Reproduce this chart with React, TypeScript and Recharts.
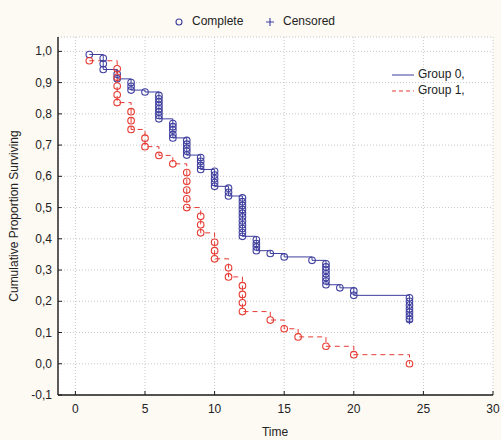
import { CartesianGrid, ComposedChart, Line, Scatter, XAxis, YAxis } from "recharts";

// event times and survival levels (one circle per event)
const group0Times = [1, 2, 3, 4, 5, 6, 7, 8, 9, 10, 11, 12, 13, 14, 15, 17, 18, 19, 20, 24];
const group0Levels = [
  [0.99],
  [0.978, 0.96, 0.942],
  [0.927, 0.912],
  [0.9, 0.888, 0.876],
  [0.87],
  [0.859, 0.848, 0.838, 0.827, 0.816, 0.806, 0.795, 0.784],
  [0.769, 0.759, 0.748, 0.734, 0.723],
  [0.715, 0.703, 0.69, 0.68, 0.668],
  [0.66, 0.648, 0.635, 0.622],
  [0.616, 0.604, 0.592, 0.58, 0.568],
  [0.562, 0.549, 0.537],
  [0.531, 0.519, 0.507, 0.494, 0.482, 0.47, 0.457, 0.445, 0.433, 0.42, 0.408],
  [0.397, 0.385, 0.374, 0.362],
  [0.353],
  [0.342],
  [0.331],
  [0.32, 0.31, 0.299, 0.288, 0.276, 0.265, 0.253],
  [0.243],
  [0.233, 0.219],
  [0.211, 0.2, 0.188, 0.176, 0.165, 0.153, 0.142],
];
const group0Censored = [{ x: 24, y: 0.136 }];

const group1Times = [1, 3, 4, 5, 6, 7, 8, 9, 10, 11, 12, 14, 15, 16, 18, 20, 24];
const group1Levels = [
  [0.97],
  [0.944, 0.917, 0.889, 0.861, 0.836],
  [0.807, 0.778, 0.75],
  [0.722, 0.695],
  [0.667],
  [0.64],
  [0.612, 0.584, 0.556, 0.528, 0.5],
  [0.472, 0.445, 0.419],
  [0.389, 0.362, 0.336],
  [0.307, 0.278],
  [0.25, 0.222, 0.195, 0.167],
  [0.14],
  [0.112],
  [0.086],
  [0.056],
  [0.029],
  [0.0],
];

const xTicks = [0, 5, 10, 15, 20, 25, 30];
const yTicks = [-0.1, 0, 0.1, 0.2, 0.3, 0.4, 0.5, 0.6, 0.7, 0.8, 0.9, 1.0];

const FONT = '"Liberation Sans", Arial, sans-serif';
const BLUE = "#3f3f9f";
const RED = "#e63a32";
const AXIS = "#1c1c1c";

// horizontal run at the previous level, then down through each event
const stepPoints = (times: number[], levels: number[][]) => {
  const pts: { x: number; y: number }[] = [];
  times.forEach((t, i) => {
    if (i > 0) {
      const prev = levels[i - 1];
      pts.push({ x: t, y: prev[prev.length - 1] });
    }
    levels[i].forEach((v) => pts.push({ x: t, y: v }));
  });
  return pts;
};

const eventPoints = (times: number[], levels: number[][]) =>
  times.flatMap((t, i) => levels[i].map((v) => ({ x: t, y: v })));

const fmtY = (v: number) => v.toFixed(1).replace(".", ",");

const ring = (color: string) => (p: any) =>
  <circle cx={p.cx} cy={p.cy} r={3.3} fill="none" stroke={color} strokeWidth={1.1} />;

const plus = (p: any) => (
  <path d={`M${p.cx - 3},${p.cy}H${p.cx + 3}M${p.cx},${p.cy - 3}V${p.cy + 3}`} stroke={BLUE} strokeWidth={1.1} />
);

const LeftTick = (p: any) => (
  <g>
    <line x1={p.x} x2={p.x + 4} y1={p.y} y2={p.y} stroke={AXIS} />
    <text x={p.x - 6} y={p.y} textAnchor="end" dominantBaseline="central" fontSize={12} fill="#222" fontFamily={FONT}>
      {fmtY(p.payload.value)}
    </text>
  </g>
);

const BottomTick = (p: any) => (
  <g>
    <line x1={p.x} x2={p.x} y1={p.y} y2={p.y - 4} stroke={AXIS} />
    <text x={p.x} y={p.y + 18} textAnchor="middle" fontSize={12} fill="#222" fontFamily={FONT}>
      {p.payload.value}
    </text>
  </g>
);

const TopTick = (p: any) => <line x1={p.x} x2={p.x} y1={p.y} y2={p.y + 4} stroke={AXIS} />;
const RightTick = (p: any) => <line x1={p.x - 4} x2={p.x} y1={p.y} y2={p.y} stroke={AXIS} />;

export default function App() {
  const line0 = stepPoints(group0Times, group0Levels);
  const line1 = stepPoints(group1Times, group1Levels);
  const dots0 = eventPoints(group0Times, group0Levels);
  const dots1 = eventPoints(group1Times, group1Levels);

  return (
    <div style={{ position: "relative", width: 501, height: 440, background: "#fdf9f3", fontFamily: FONT }}>
      <style>{"body{margin:0}"}</style>
      <ComposedChart width={501} height={440} margin={{ top: 37, right: 8, bottom: 0, left: 0 }}>
        <CartesianGrid xAxisId="b" yAxisId="l" fill="#fff" stroke="#c8c8c8" strokeDasharray="1 2" />
        <XAxis xAxisId="b" type="number" dataKey="x" domain={[-1.25, 30]} ticks={xTicks} allowDataOverflow
          height={45} tickSize={0} tickMargin={0} tickLine={false} tick={BottomTick}
          axisLine={{ stroke: AXIS, strokeWidth: 1.4 }} />
        <XAxis xAxisId="t" orientation="top" type="number" dataKey="x" domain={[-1.25, 30]} ticks={xTicks}
          allowDataOverflow height={0} tickSize={0} tickLine={false} tick={TopTick}
          axisLine={{ stroke: AXIS, strokeWidth: 1.4 }} />
        <YAxis yAxisId="l" type="number" dataKey="y" domain={[-0.1, 1.046]} ticks={yTicks} allowDataOverflow
          width={58} tickSize={0} tickMargin={0} tickLine={false} tick={LeftTick}
          axisLine={{ stroke: AXIS, strokeWidth: 1.4 }} />
        <YAxis yAxisId="r" orientation="right" type="number" dataKey="y" domain={[-0.1, 1.046]} ticks={yTicks}
          allowDataOverflow width={0} tickSize={0} tickLine={false} tick={RightTick}
          axisLine={{ stroke: AXIS, strokeWidth: 1.4 }} />
        <Line xAxisId="b" yAxisId="l" data={line0} dataKey="y" type="linear" stroke={BLUE} strokeWidth={1}
          dot={false} activeDot={false} isAnimationActive={false} />
        <Line xAxisId="b" yAxisId="l" data={line1} dataKey="y" type="linear" stroke={RED} strokeWidth={1}
          strokeDasharray="5 4" dot={false} activeDot={false} isAnimationActive={false} />
        <Scatter xAxisId="b" yAxisId="l" data={dots0} shape={ring(BLUE)} isAnimationActive={false} />
        <Scatter xAxisId="b" yAxisId="l" data={dots1} shape={ring(RED)} isAnimationActive={false} />
        <Scatter xAxisId="b" yAxisId="l" data={group0Censored} shape={plus} isAnimationActive={false} />
      </ComposedChart>

      {/* top legend */}
      <div style={{ position: "absolute", top: 14, left: 0, width: 501, fontSize: 12, color: "#222" }}>
        <svg width={10} height={10} style={{ position: "absolute", left: 174, top: 3 }}>
          <circle cx={5} cy={5} r={3} fill="none" stroke={BLUE} strokeWidth={1.1} />
        </svg>
        <span style={{ position: "absolute", left: 192, top: 0 }}>Complete</span>
        <svg width={10} height={10} style={{ position: "absolute", left: 265, top: 3 }}>
          <path d="M1,5H9M5,1V9" stroke={BLUE} strokeWidth={1.1} />
        </svg>
        <span style={{ position: "absolute", left: 283, top: 0 }}>Censored</span>
      </div>

      {/* group legend */}
      <div style={{ position: "absolute", left: 390, top: 67, fontSize: 12, color: "#222" }}>
        <svg width={26} height={34} style={{ position: "absolute", left: 0, top: 0 }}>
          <line x1={2} x2={24} y1={8} y2={8} stroke={BLUE} strokeWidth={1} />
          <line x1={2} x2={24} y1={24} y2={24} stroke={RED} strokeWidth={1} strokeDasharray="4 3" />
        </svg>
        <span style={{ position: "absolute", left: 28, top: 0, whiteSpace: "nowrap" }}>Group 0,</span>
        <span style={{ position: "absolute", left: 28, top: 16, whiteSpace: "nowrap" }}>Group 1,</span>
      </div>

      {/* axis titles */}
      <div style={{ position: "absolute", left: 275, top: 425, transform: "translateX(-50%)", fontSize: 12, color: "#222" }}>
        Time
      </div>
      <div style={{ position: "absolute", left: 14, top: 216, transform: "translate(-50%, -50%) rotate(-90deg)",
        fontSize: 12, color: "#222", whiteSpace: "nowrap" }}>
        Cumulative Proportion Surviving
      </div>
    </div>
  );
}
